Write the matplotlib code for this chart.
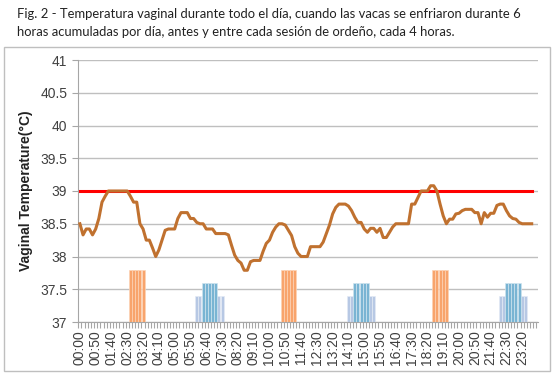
import matplotlib
matplotlib.use("Agg")
import matplotlib.pyplot as plt
from matplotlib.patches import Rectangle

# ---------------- data ----------------
times = [f"{h:02d}:{m:02d}" for h in range(24) for m in range(0, 60, 10)]

temperature = [
    38.50, 38.33, 38.42, 38.42, 38.33, 38.42, 38.58, 38.83, 38.92, 39.00,
    39.00, 39.00, 39.00, 39.00, 39.00, 39.00, 38.92, 38.83, 38.83, 38.50,
    38.42, 38.25, 38.25, 38.13, 38.00, 38.10, 38.25, 38.40, 38.42, 38.42,
    38.42, 38.58, 38.67, 38.67, 38.67, 38.58, 38.58, 38.52, 38.50, 38.50,
    38.42, 38.42, 38.42, 38.35, 38.35, 38.35, 38.35, 38.33, 38.17, 38.02,
    37.94, 37.90, 37.79, 37.79, 37.92, 37.94, 37.94, 37.94, 38.08, 38.20,
    38.25, 38.37, 38.45, 38.50, 38.50, 38.48, 38.40, 38.32, 38.15, 38.05,
    38.00, 38.00, 38.00, 38.15, 38.15, 38.15, 38.15, 38.22, 38.35, 38.48,
    38.65, 38.75, 38.80, 38.80, 38.80, 38.77, 38.70, 38.60, 38.52, 38.52,
    38.42, 38.37, 38.43, 38.43, 38.37, 38.43, 38.29, 38.29, 38.37, 38.45,
    38.50, 38.50, 38.50, 38.50, 38.50, 38.80, 38.80, 38.90, 39.00, 39.00,
    39.00, 39.08, 39.08, 39.00, 38.80, 38.62, 38.50, 38.57, 38.57, 38.65,
    38.66, 38.70, 38.72, 38.72, 38.72, 38.67, 38.67, 38.50, 38.67, 38.60,
    38.66, 38.66, 38.78, 38.80, 38.80, 38.70, 38.62, 38.58, 38.57, 38.52,
    38.50, 38.50, 38.50, 38.50,
]
threshold = 39.0

milking_times = ["02:40", "02:50", "03:00", "03:10", "03:20",
                 "10:40", "10:50", "11:00", "11:10", "11:20",
                 "18:40", "18:50", "19:00", "19:10", "19:20"]
milking_value = 37.8

cooling_core_times = ["06:30", "06:40", "06:50", "07:00", "07:10",
                      "14:30", "14:40", "14:50", "15:00", "15:10",
                      "22:30", "22:40", "22:50", "23:00", "23:10"]
cooling_core_value = 37.6

cooling_wide_times = ["06:10", "06:20", "06:30", "06:40", "06:50", "07:00", "07:10", "07:20", "07:30",
                      "14:10", "14:20", "14:30", "14:40", "14:50", "15:00", "15:10", "15:20", "15:30",
                      "22:10", "22:20", "22:30", "22:40", "22:50", "23:00", "23:10", "23:20", "23:30"]
cooling_wide_value = 37.4

caption_1 = "Fig. 2 - Temperatura vaginal durante todo el día, cuando las vacas se enfriaron durante 6"
caption_2 = "horas acumuladas por día, antes y entre cada sesión de ordeño, cada 4 horas."
y_label = "Vaginal Temperature(°C)"

# ---------------- figure ----------------
W, H = 555, 376
fig = plt.figure(figsize=(W / 100, H / 100), dpi=100)
fig.patch.set_facecolor("white")

# chart box border
fig.patches.append(Rectangle((4 / W, 1 - 371 / H), 546 / W, 324 / H,
                             transform=fig.transFigure, fill=False,
                             edgecolor="#BFBFBF", linewidth=1.0))

# caption (fit to measured width)
cap_font = "Lato"
t1 = fig.text(17 / W, 1 - 14 / H, caption_1, fontsize=9, family=cap_font,
              color="#222222", va="center", ha="left")
t2 = fig.text(17 / W, 1 - 32 / H, caption_2, fontsize=9, family=cap_font,
              color="#222222", va="center", ha="left")
fig.canvas.draw()
r = fig.canvas.get_renderer()
w1 = t1.get_window_extent(r).width
fs = 9 * 507 / w1
t1.set_fontsize(fs)
t2.set_fontsize(fs)

ax = fig.add_axes([78.3 / W, 1 - 322 / H, 459.4 / W, 262 / H])
idx = {t: i for i, t in enumerate(times)}
x = list(range(len(temperature)))

wide_x = [idx[t] for t in cooling_wide_times]
core_x = [idx[t] for t in cooling_core_times]
milk_x = [idx[t] for t in milking_times]

ax.bar(wide_x, [cooling_wide_value - 37] * len(wide_x), bottom=37, width=0.92,
       color="#B7C8E4", edgecolor="#E3EAF5", linewidth=0.5, zorder=2)
ax.bar(core_x, [cooling_core_value - 37] * len(core_x), bottom=37, width=0.92,
       color="#79B4D3", edgecolor="#CFE4EF", linewidth=0.5, zorder=3)
ax.bar(milk_x, [milking_value - 37] * len(milk_x), bottom=37, width=0.92,
       color="#F8A46C", edgecolor="#FCD3B6", linewidth=0.5, zorder=3)

ax.plot(x, [threshold] * len(x), color="#FF0000", linewidth=2.2, zorder=4)
ax.plot(x, temperature, color="#C0712F", linewidth=2.2, zorder=5,
        solid_joinstyle="round")

ax.set_ylim(37, 41)
ax.set_xlim(-0.5, 144.9)
ax.set_yticks([37, 37.5, 38, 38.5, 39, 39.5, 40, 40.5, 41])
ax.set_yticklabels(["37", "37.5", "38", "38.5", "39", "39.5", "40", "40.5", "41"],
                   family="Liberation Sans", fontsize=10, color="#404040")
ax.grid(axis="y", color="#BFBFBF", linewidth=1.0, zorder=0)
ax.set_axisbelow(True)

major = list(range(0, len(times), 5))
ax.set_xticks(major)
ax.set_xticklabels([times[i] for i in major], rotation=90,
                   family="Liberation Sans", fontsize=10, color="#404040")
ax.set_xticks([i - 0.5 for i in range(146)], minor=True)
ax.tick_params(axis="x", which="major", length=0, pad=6)
ax.tick_params(axis="x", which="minor", length=4, color="#A6A6A6", width=0.8)
ax.tick_params(axis="y", length=4, color="#A6A6A6", width=0.8, pad=4)

for s in ["top", "right"]:
    ax.spines[s].set_visible(False)
ax.spines["left"].set_color("#A6A6A6")
ax.spines["bottom"].set_color("#A6A6A6")

ax.set_ylabel(y_label, family="Liberation Sans", fontsize=10, fontweight="bold",
              color="#222222")
ax.yaxis.set_label_coords(-(78.3 - 33) / 459.4, 0.5)

fig.savefig("out.png", dpi=100)
